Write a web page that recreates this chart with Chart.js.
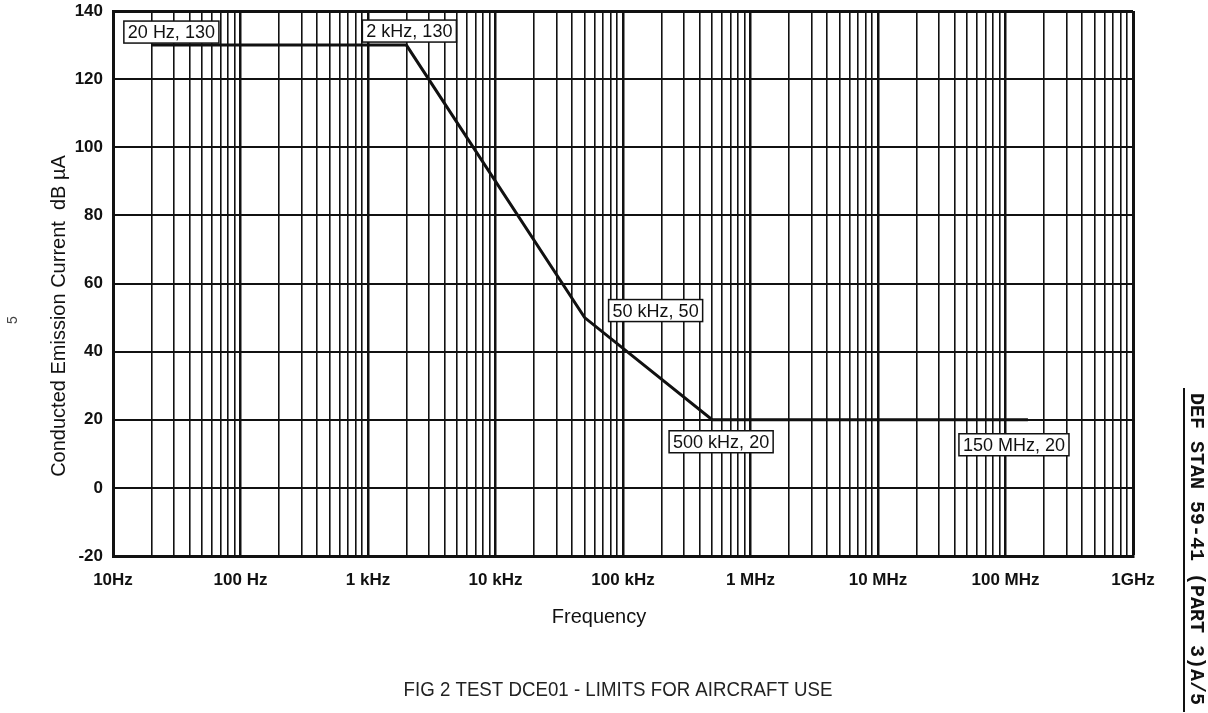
<!DOCTYPE html>
<html>
<head>
<meta charset="utf-8">
<title>DCE01 limits</title>
<script src="https://cdn.jsdelivr.net/npm/chart.js@4/dist/chart.umd.min.js"></script>
<style>
html, body { margin: 0; padding: 0; background: #fff; }
canvas { display: block; }
</style>
</head>
<body>
<canvas id="limitChart" width="1208" height="713"></canvas>
<script>

// limit line break points
const freqs = [20, 2000, 50000, 500000, 150000000]

const limits = [130, 130, 50, 20, 20]

const pointLabels = ["20 Hz, 130", "2 kHz, 130", "50 kHz, 50", "500 kHz, 20", "150 MHz, 20"]


// axis labels
const decadeLabels = ["10Hz", "100 Hz", "1 kHz", "10 kHz", "100 kHz", "1 MHz", "10 MHz", "100 MHz", "1GHz"]

const yMin = -20
const yMax = 140
const yStep = 20


// where each label box sits, relative to its point (box centre, px)
const labelShift = [[20, -13], [3, -14], [71, -7], [9, 22], [-14, 25]]


const ink = "#111"
const sans = "'Liberation Sans', Arial, Helvetica, sans-serif"


// one vertical line for 1..9 of every decade
function logGridValues(){

const vals = []

for(let e = 1; e < 9; e++){

for(let m = 1; m < 10; m++){

vals.push(m * Math.pow(10, e))

}

}

vals.push(1e9)

return vals.map(v => ({value: v}))

}

function isDecade(v){

const l = Math.log10(v)

return Math.abs(l - Math.round(l)) < 1e-9

}


// boxes, titles and margin text
const pageText = {

id: "pageText",

afterDatasetsDraw(chart){

const ctx = chart.ctx
const xs = chart.scales.x
const ys = chart.scales.y

ctx.save()

// point label boxes
ctx.font = "18px " + sans
ctx.textAlign = "center"
ctx.textBaseline = "middle"

pointLabels.forEach((txt, i) => {

const cx = xs.getPixelForValue(freqs[i]) + labelShift[i][0]
const cy = ys.getPixelForValue(limits[i]) + labelShift[i][1]
const w = ctx.measureText(txt).width + 8
const h = 22

ctx.fillStyle = "#fff"
ctx.fillRect(cx - w / 2, cy - h / 2, w, h)
ctx.lineWidth = 1.5
ctx.strokeStyle = ink
ctx.strokeRect(cx - w / 2, cy - h / 2, w, h)

ctx.fillStyle = ink
ctx.fillText(txt, cx, cy + 1)

})

ctx.restore()

},

afterDraw(chart){

const ctx = chart.ctx

ctx.save()
ctx.fillStyle = ink
ctx.textAlign = "center"
ctx.textBaseline = "middle"

// x title
ctx.font = "20px " + sans
ctx.fillText("Frequency", 599, 617)

// y title
ctx.save()
ctx.translate(59, 316)
ctx.rotate(-Math.PI / 2)
ctx.font = "20px " + sans
ctx.fillText("Conducted Emission Current  dB \u00b5A", 0, 0)
ctx.restore()

// page number
ctx.save()
ctx.translate(13, 320)
ctx.rotate(-Math.PI / 2)
ctx.font = "14px " + sans
ctx.fillStyle = "#444"
ctx.fillText("5", 0, 0)
ctx.restore()

// caption, a little condensed
ctx.save()
ctx.translate(618, 690)
ctx.scale(0.89, 1)
ctx.font = "21px " + sans
ctx.fillStyle = "#222"
ctx.fillText("FIG 2 TEST DCE01 - LIMITS FOR AIRCRAFT USE", 0, 0)
ctx.restore()

// document reference down the right edge
ctx.strokeStyle = ink
ctx.lineWidth = 2
ctx.beginPath()
ctx.moveTo(1184, 388)
ctx.lineTo(1184, 712)
ctx.stroke()

ctx.save()
ctx.translate(1196, 549)
ctx.rotate(Math.PI / 2)
ctx.font = "bold 20px 'Liberation Mono', 'Courier New', monospace"
ctx.fillText("DEF STAN 59-41 (PART 3)A/5", 0, 0)
ctx.restore()

ctx.restore()

}

}


// create chart
const ctx = document.getElementById("limitChart").getContext("2d")

const chart = new Chart(ctx, {

type: "line",

data: {

datasets: [{

data: freqs.map((f, i) => ({x: f, y: limits[i]})),

borderColor: ink,

borderWidth: 3,

pointRadius: 0,

tension: 0,

fill: false

}]

},

options: {

responsive: false,

animation: false,

devicePixelRatio: 1,

layout: {

padding: {left: 0, right: 75, top: 11, bottom: 0}

},

plugins: {

legend: {display: false},

tooltip: {enabled: false}

},

scales: {

x: {

type: "logarithmic",

min: 10,

max: 1e9,

afterBuildTicks: scale => {

scale.ticks = logGridValues()

},

afterFit: scale => {

scale.height = 157
scale.paddingLeft = 0
scale.paddingRight = 0

},

ticks: {

autoSkip: false,

maxRotation: 0,

padding: 14,

color: ink,

font: {family: sans, size: 17, weight: "bold"},

callback: value => isDecade(value) ? decadeLabels[Math.round(Math.log10(value)) - 1] : ""

},

grid: {

color: ink,

drawTicks: false,

lineWidth: c => {

const v = c.tick ? c.tick.value : 0

if(v >= 1e9) return 3

return isDecade(v) ? 2.5 : 1.6

}

},

border: {color: ink, width: 3}

},

y: {

min: yMin,

max: yMax,

afterFit: scale => {

scale.width = 113
scale.paddingTop = 0
scale.paddingBottom = 0

},

ticks: {

stepSize: yStep,

padding: 10,

color: ink,

font: {family: sans, size: 17, weight: "bold"}

},

grid: {

color: ink,

drawTicks: false,

lineWidth: c => (c.tick && c.tick.value === yMax) ? 3 : 2

},

border: {color: ink, width: 3}

}

}

},

plugins: [pageText]

})

</script>
</body>
</html>
